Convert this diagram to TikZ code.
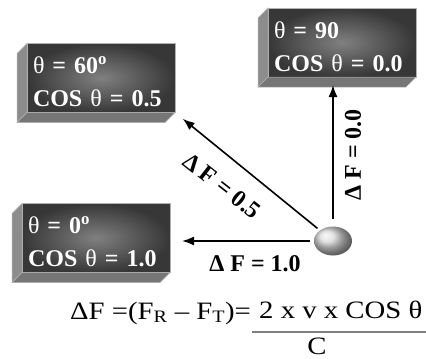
\documentclass[tikz,border=0pt]{standalone}
\usepackage{fontspec}
\setmainfont{Liberation Serif}
\newfontfamily\widefont[FakeStretch=1.15]{Liberation Serif}
\usetikzlibrary{arrows.meta, shapes.geometric, shadings}

\definecolor{facedark}{RGB}{55,55,55}
\definecolor{facelight}{RGB}{128,128,128}
\definecolor{sidegray}{RGB}{140,140,140}
\definecolor{bottomgray}{RGB}{118,118,118}

\newcommand{\thet}{{\mdseries θ}}

\begin{document}
\begin{tikzpicture}[
    x=1pt, y=-1pt,
    slab/.style={rectangle, minimum width=148pt, minimum height=69pt,
                inner sep=0pt, outer sep=0pt, shading=radial,
                inner color=facelight, outer color=facedark,
                draw=gray!60, line width=0.6pt, text=white, align=left,
                text width=136pt, font=\bfseries\fontsize{24}{33}\selectfont},
    sidefill/.style={fill=sidegray, draw=gray!60, line width=0.5pt},
    bottomfill/.style={fill=bottomgray, draw=gray!60, line width=0.5pt},
    arr/.style={-{Latex[length=12pt, width=9pt]}, line width=1.6pt, black},
    dflabel/.style={font=\bfseries\fontsize{24}{28}\selectfont, inner sep=0pt},
    formula/.style={font=\widefont\fontsize{25}{28}\selectfont, inner sep=0pt},
    fracbar/.style={draw=gray, line width=1.6pt},
]
\useasboundingbox (0,0) rectangle (426,359);

% Angle boxes
\node[slab] (box60) at (101, 78) {\rule{0pt}{25pt}\thet{} = 60\textsuperscript{o}\\COS \thet{} = 0.5};
\node[slab] (box90) at (342, 42.5) {\rule{0pt}{25pt}\thet{} = 90\\COS \thet{} = 0.0};
\node[slab] (box0) at (96, 238) {\rule{0pt}{25pt}\thet{} = 0\textsuperscript{o}\\COS \thet{} = 1.0};

% Slab sides
\foreach \b in {box60,box90,box0} {
    \filldraw[sidefill] (\b.north west) -- ++(-10,10) -- ([shift={(-10,10)}]\b.south west) -- (\b.south west) -- cycle;
    \filldraw[bottomfill] (\b.south west) -- ++(-10,10) -- ([shift={(-10,10)}]\b.south east) -- (\b.south east) -- cycle;
}

% Source ball
\node[ellipse, minimum width=38pt, minimum height=29pt, inner sep=0pt,
      shading=ball, ball color=gray!30] (ball) at (333, 241) {};

% Arrows
\draw[arr, shorten <=4pt, shorten >=12pt] (ball.west) -- (ball.west -| box0.east);
\draw[arr, shorten <=3pt, shorten >=10pt] (ball) -- (box60.south east);
\draw[arr, shorten <=7pt, shorten >=8pt] (ball.north) -- (ball.north |- box90.south);

% Arrow labels
\node[dflabel] (df10) at (255, 264) {Δ F = 1.0};
\node[dflabel, rotate=-38] (df05) at (222, 186) {Δ F = 0.5};
\node[dflabel, rotate=90] (df00) at (353, 155) {Δ F = 0.0};

% Formula
\node[formula, anchor=base west] (lhs) at (70, 319) {ΔF =(F\textsubscript{R} – F\textsubscript{T})=};
\node[formula, anchor=base west] (num) at (259, 318) {2 x v x COS θ};
\node[formula, anchor=base] (den) at (317, 354) {C};
\draw[fracbar] ([shift={(-7,14)}]num.base west) -- ([shift={(9,14)}]num.base east);

\end{tikzpicture}
\end{document}
